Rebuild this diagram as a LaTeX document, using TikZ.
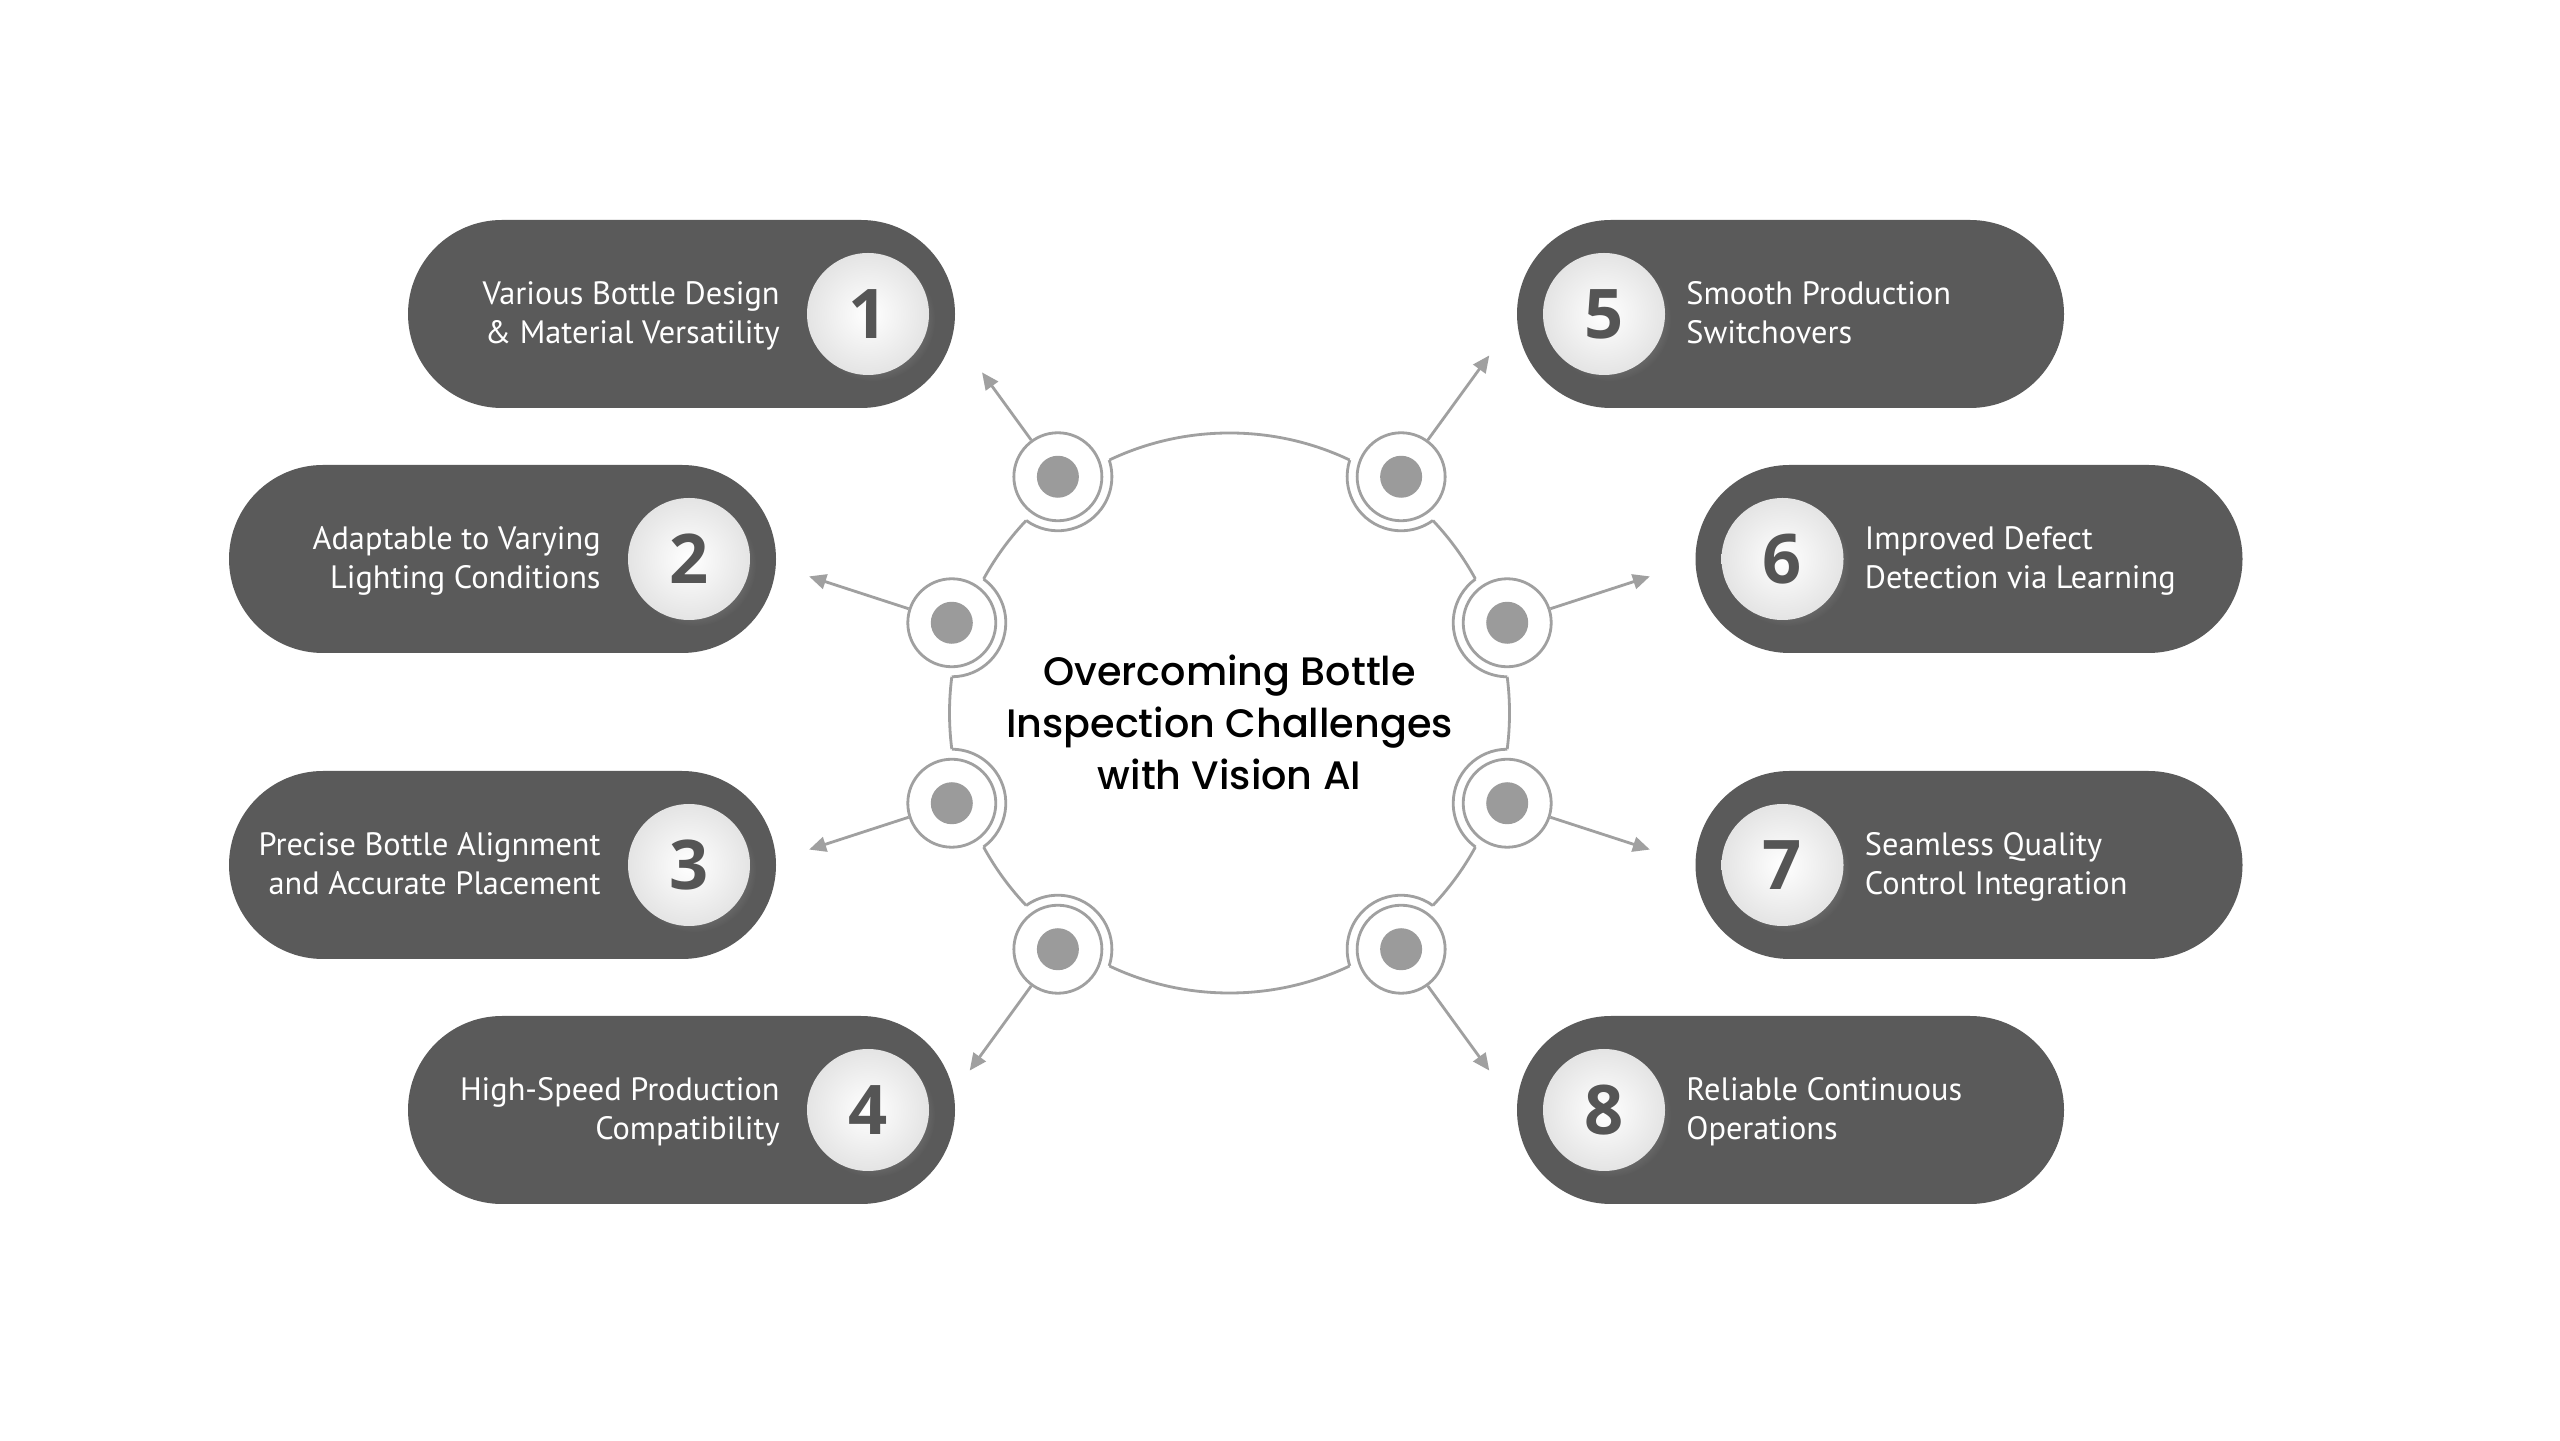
\documentclass[tikz,border=0pt]{standalone}
\usepackage{fontspec}
\setmainfont{PT Sans}
\newfontfamily\titlefont{Poppins Medium}
\newfontfamily\numfont{Open Sans}
\usetikzlibrary{arrows.meta, positioning, shadows}
\definecolor{pillgray}{RGB}{90,90,90}
\definecolor{ringgray}{RGB}{160,160,160}
\definecolor{dotgray}{RGB}{155,155,155}
\definecolor{numgray}{RGB}{85,85,85}
\definecolor{ballgray}{RGB}{228,228,228}

\begin{document}
\begin{tikzpicture}[
  pill/.style={fill=pillgray, rounded corners=0.94cm, minimum width=5.47cm, minimum height=1.88cm, inner sep=0pt},
  numball/.style={circle, inner sep=0pt, minimum size=1.22cm, inner color=white, outer color=ballgray,
    circular drop shadow={shadow xshift=0.05cm, shadow yshift=-0.05cm, shadow scale=1.02, opacity=0.35},
    text=numgray, font=\numfont\bfseries\fontsize{19.5}{19.5}\selectfont},
  pilltext/.style={inner sep=0pt, text=white, yshift=-0.04cm, font=\fontsize{9.2}{11.1}\selectfont,
    execute at begin node=\strut, execute at end node=\strut},
  hub/.style={circle, draw=ringgray, line width=0.8pt, fill=white, minimum size=0.88cm, inner sep=0pt,
    path picture={\fill[dotgray] (path picture bounding box.center) circle (0.21cm);}},
  ringline/.style={draw=ringgray, line width=0.8pt},
  conn/.style={ringline, -{Triangle[length=1.7mm, width=1.5mm]}},
  title/.style={align=center, font=\titlefont\fontsize{11.3}{14.8}\selectfont}
]
 \fill[white] (0,0) rectangle (25.6,14.4);
 \useasboundingbox (0,0) rectangle (25.6,14.4);

 % left side
 \foreach \i/\x/\y/\txt in {1/6.815/11.26/{Various Bottle Design\\\& Material Versatility},
   2/5.025/8.81/{Adaptable to Varying\\Lighting Conditions},
   3/5.025/5.75/{Precise Bottle Alignment\\and Accurate Placement},
   4/6.815/3.30/{High-Speed Production\\Compatibility}}{
   \node[pill] (p\i) at (\x,\y) {};
   \node[numball, left=0.26cm of p\i.east] (n\i) {\i};
   \node[pilltext, align=right, left=0.26cm of n\i] (c\i) {\txt};
 }
 % right side
 \foreach \i/\x/\y/\txt in {5/17.905/11.26/{Smooth Production\\Switchovers},
   6/19.69/8.81/{Improved Defect\\Detection via Learning},
   7/19.69/5.75/{Seamless Quality\\Control Integration},
   8/17.905/3.30/{Reliable Continuous\\Operations}}{
   \node[pill] (p\i) at (\x,\y) {};
   \node[numball, right=0.26cm of p\i.west] (n\i) {\i};
   \node[pilltext, align=left, right=0.2cm of n\i] (c\i) {\txt};
 }

 % hub ring
 \coordinate (O) at (12.295,7.27);
 \draw[ringline] (O) circle (2.8cm);
 \begin{scope}[shift={(O)}]
 \foreach \i/\a/\r in {1/126/4.21, 2/162/4.42, 3/198/4.42, 4/234/4.42,
   5/54/4.42, 6/18/4.42, 7/-18/4.42, 8/-54/4.42}{
   \fill[white] (\a:2.92) circle (0.54cm);
   \node[hub] (h\i) at (\a:2.92) {};
   \draw[ringline] ([shift={(\a+108:0.54)}]h\i.center) arc[start angle=\a+108, end angle=\a+252, radius=0.54cm];
   \coordinate (t\i) at (\a:\r);
   \draw[conn] (h\i) -- (t\i);
 }
 \end{scope}

 \node[title] (title) at (12.295,7.18) {Overcoming Bottle\\Inspection Challenges\\with Vision AI};
\end{tikzpicture}
\end{document}
